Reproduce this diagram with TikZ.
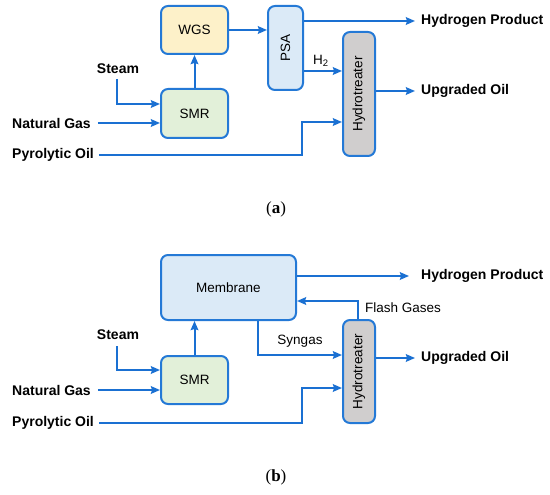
\documentclass[tikz,border=0pt]{standalone}
\usepackage{fontspec}
\setmainfont{Liberation Sans}
\newfontfamily\capfont{Liberation Serif}
\usetikzlibrary{arrows.meta}
\definecolor{flow}{HTML}{1A70D2}
\definecolor{edge}{HTML}{2479D6}
\definecolor{wgsfill}{HTML}{FDF1C9}
\definecolor{smrfill}{HTML}{E2F0D9}
\definecolor{psafill}{HTML}{DBEAF7}
\definecolor{htfill}{HTML}{D0CECE}
\tikzset{
  unit/.style={draw=edge, line width=2pt, rounded corners=7pt, inner sep=0pt, font=\fontsize{13.5}{15}\selectfont},
  vtext/.style={rotate=90, inner sep=0pt, font=\fontsize{13.5}{15}\selectfont},
  stream/.style={inner sep=0pt, font=\bfseries\fontsize{14}{16}\selectfont},
  small/.style={inner sep=0pt, font=\fontsize{13.5}{15}\selectfont},
  captext/.style={inner sep=0pt, font=\capfont\fontsize{17}{19}\selectfont},
  arr/.style={draw=flow, line width=2pt, -{Stealth[length=9pt,width=7.5pt,inset=1pt]}}
}
\begin{document}
\begin{tikzpicture}[x=1pt,y=-1pt]
\useasboundingbox (0,0) rectangle (550,495);
% ---------- (a) ----------
\node[unit, fill=wgsfill, minimum width=67pt, minimum height=48pt] (wgs) at (194.5,30) {WGS};
\node[unit, fill=smrfill, minimum width=67pt, minimum height=49pt] (smra) at (194.5,113.5) {SMR};
\node[unit, fill=psafill, minimum width=35pt, minimum height=84pt] (psa) at (285.5,48) {};
\node[vtext] (psat) at (psa) {PSA};
\node[unit, fill=htfill, minimum width=32pt, minimum height=124pt] (hta) at (359,94) {};
\node[vtext] (htat) at (hta) {Hydrotreater};
\node[stream, anchor=center] (steama) at (118,69) {Steam};
\node[stream, anchor=west] (nga) at (12,123) {Natural Gas};
\node[stream, anchor=west] (poa) at (12,155) {Pyrolytic Oil};
\node[stream, anchor=west] (hpa) at (421,21) {Hydrogen Product};
\node[stream, anchor=west] (uoa) at (421,91) {Upgraded Oil};
\node[small] (h2a) at (321,61) {H\textsubscript{2}};
\coordinate (stxa) at (117,79);
\coordinate (stya) at (0,104);
\coordinate (h2ya) at (0,71);
\coordinate (poya) at (0,122);
\coordinate (poxa) at (302,0);
\draw[arr] (smra.north) -- (wgs.south);
\draw[arr] (wgs.east) -- (wgs.east -| psa.west);
\draw[arr] (psa.east |- hpa.west) -- ([xshift=-6pt]hpa.west);
\draw[arr] (psa.east |- h2ya) -- (hta.west |- h2ya);
\draw[arr] (hta.east |- uoa.west) -- ([xshift=-6pt]uoa.west);
\draw[arr] (stxa) |- (smra.west |- stya);
\draw[arr] ([xshift=7pt]nga.east) -- (nga.east -| smra.west);
\draw[arr] ([xshift=5pt]poa.east) -- (poa.east -| poxa) -- (poxa |- poya) -- (hta.west |- poya);
\node[captext] (capa) at (276,209) {(\textbf{a})};
% ---------- (b) ----------
\node[unit, fill=psafill, minimum width=135pt, minimum height=65pt] (mem) at (228.5,287.5) {Membrane};
\node[unit, fill=smrfill, minimum width=67pt, minimum height=48pt] (smrb) at (194.5,380) {SMR};
\node[unit, fill=htfill, minimum width=32pt, minimum height=103pt] (htb) at (359,371.5) {};
\node[vtext] (htbt) at (htb) {Hydrotreater};
\node[stream, anchor=center] (steamb) at (118,335) {Steam};
\node[stream, anchor=west] (ngb) at (12,390) {Natural Gas};
\node[stream, anchor=west] (pob) at (12,423) {Pyrolytic Oil};
\node[stream, anchor=west] (hpb) at (421,276) {Hydrogen Product};
\node[stream, anchor=west] (uob) at (421,358) {Upgraded Oil};
\node[small] (sgb) at (300,341) {Syngas};
\node[small, anchor=west] (fgb) at (365,308) {Flash Gases};
\coordinate (stxb) at (117,346);
\coordinate (styb) at (0,370);
\coordinate (fgyb) at (0,301);
\coordinate (sgxb) at (258,0);
\coordinate (sgyb) at (0,355);
\coordinate (poyb) at (0,388);
\coordinate (poxb) at (302,0);
\draw[arr] (smrb.north) -- (mem.south -| smrb.north);
\draw[arr] (mem.east |- hpb.west) -- ([xshift=-12pt]hpb.west);
\draw[arr] ([xshift=-1pt]htb.north) -- ([xshift=-1pt]htb.north |- fgyb) -- (mem.east |- fgyb);
\draw[arr] (mem.south -| sgxb) -- (sgxb |- sgyb) -- (htb.west |- sgyb);
\draw[arr] (htb.east |- uob.west) -- ([xshift=-6pt]uob.west);
\draw[arr] (stxb) |- (smrb.west |- styb);
\draw[arr] ([xshift=7pt]ngb.east) -- (ngb.east -| smrb.west);
\draw[arr] ([xshift=5pt]pob.east) -- (pob.east -| poxb) -- (poxb |- poyb) -- (htb.west |- poyb);
\node[captext] (capb) at (276,477) {(\textbf{b})};
\end{tikzpicture}
\end{document}
